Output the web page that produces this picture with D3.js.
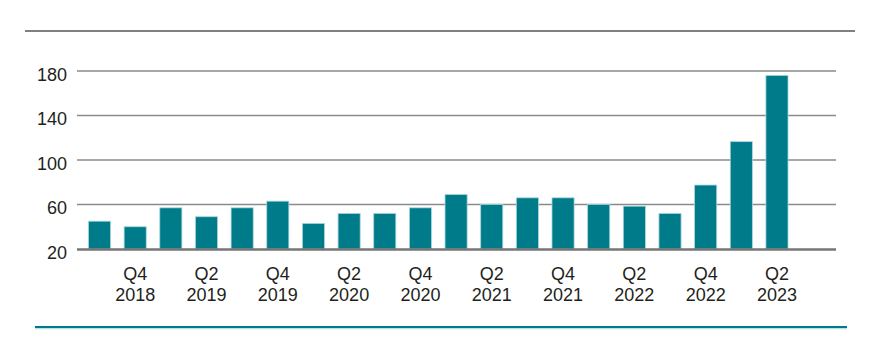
<!DOCTYPE html>
<html><head><meta charset="utf-8">
<script src="https://cdn.jsdelivr.net/npm/d3@7"></script>
<style>body{margin:0;background:#fff}svg{display:block}text{font-family:"Liberation Sans",Arial,sans-serif;fill:#231f20}</style>
</head><body><svg id="c" width="880" height="360"></svg>
<script>
const quarters = ["Q3 2018","Q4 2018","Q1 2019","Q2 2019","Q3 2019","Q4 2019","Q1 2020","Q2 2020","Q3 2020","Q4 2020","Q1 2021","Q2 2021","Q3 2021","Q4 2021","Q1 2022","Q2 2022","Q3 2022","Q4 2022","Q1 2023","Q2 2023"];
const values = [45,40,57,49,57,63,43,52,52,57,69,60,66,66,60,58.5,52,77.5,116.5,176];
const yTicks = [20,60,100,140,180];
const labelled = ["Q4 2018","Q2 2019","Q4 2019","Q2 2020","Q4 2020","Q2 2021","Q4 2021","Q2 2022","Q4 2022","Q2 2023"];

const svg = d3.select("#c");
const x = d3.scaleBand().domain(quarters).range([81.7, 794.8]).paddingInner(0.38).paddingOuter(0.19);
const y = d3.scaleLinear().domain([20,180]).range([249,71]);
const gridL = 77, gridR = 836;

// top rule
svg.append("line").attr("x1",25).attr("x2",855).attr("y1",31).attr("y2",31).attr("stroke","#7f7f7f").attr("stroke-width",2);
// bottom teal rule
svg.append("line").attr("x1",35).attr("x2",847).attr("y1",328.5).attr("y2",328.5).attr("stroke","#b9e0e4").attr("stroke-width",1.5);
svg.append("line").attr("x1",35).attr("x2",847).attr("y1",327).attr("y2",327).attr("stroke","#007b8a").attr("stroke-width",2);

// gridlines
svg.append("g").selectAll("line").data(yTicks.filter(d=>d>20)).join("line")
  .attr("x1",gridL).attr("x2",gridR).attr("y1",d=>y(d)).attr("y2",d=>y(d))
  .attr("stroke","#8a8a8a").attr("stroke-width",1.6);

// y labels
svg.append("g").selectAll("text").data(yTicks).join("text")
  .attr("x",67).attr("y",d=>y(d)+9.5).attr("text-anchor","end").attr("font-size",18).text(d=>d);

// bars
svg.append("g").selectAll("rect").data(quarters).join("rect")
  .attr("x",d=>x(d)).attr("width",x.bandwidth())
  .attr("y",(d,i)=>y(values[i])).attr("height",(d,i)=>y(20)-y(values[i]))
  .attr("fill","#007b8a").attr("stroke","#a9d6dc").attr("stroke-width",0.8);

// baseline
svg.append("line").attr("x1",gridL).attr("x2",gridR).attr("y1",249.5).attr("y2",249.5).attr("stroke","#767676").attr("stroke-width",2.5);

// x labels
const xl = svg.append("g").selectAll("text").data(labelled).join("text")
  .attr("text-anchor","middle").attr("font-size",18)
  .attr("transform",d=>`translate(${x(d)+x.bandwidth()/2},0)`);
xl.append("tspan").attr("x",0).attr("y",280).text(d=>d.split(" ")[0]);
xl.append("tspan").attr("x",0).attr("y",300.7).text(d=>d.split(" ")[1]);
</script></body></html>
